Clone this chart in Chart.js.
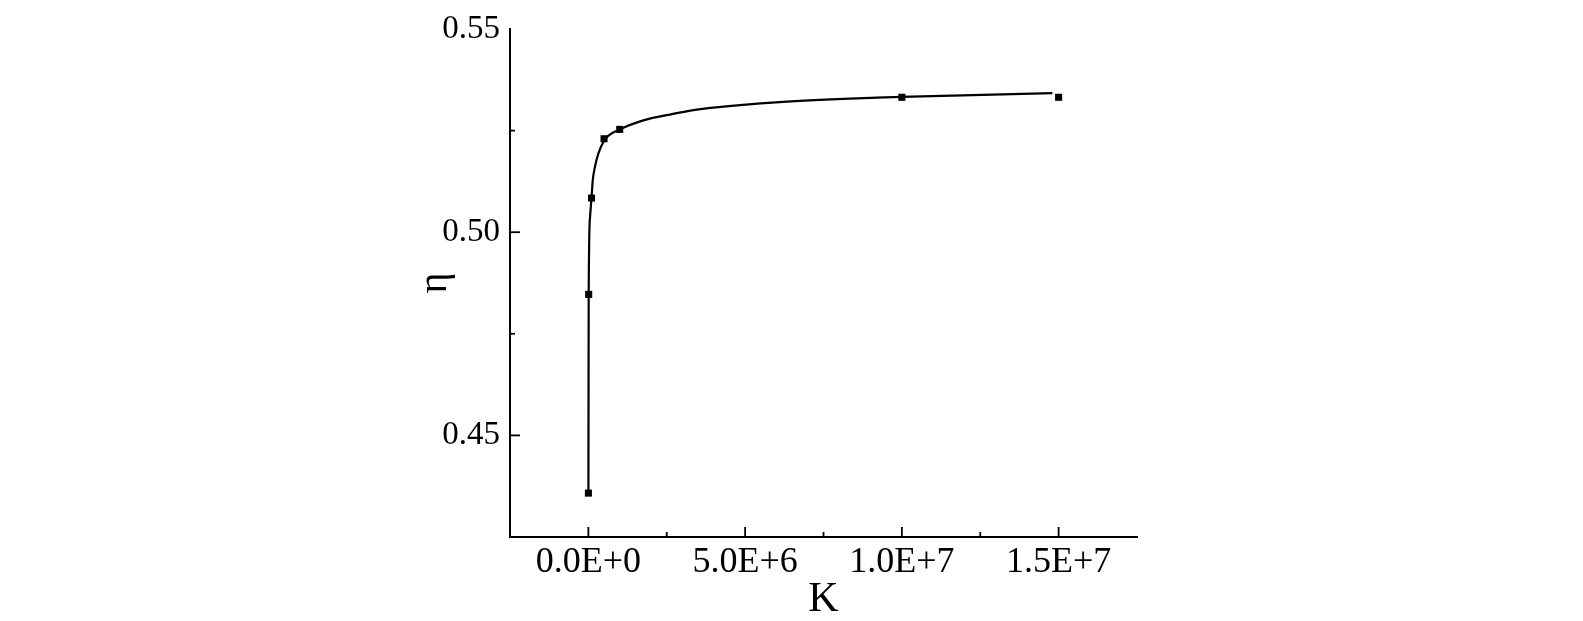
<!DOCTYPE html>
<html>
<head>
<meta charset="utf-8">
<title>eta vs K</title>
<script src="https://cdn.jsdelivr.net/npm/chart.js@4/dist/chart.umd.min.js"></script>
<style>
  html, body { margin: 0; padding: 0; background: #fff; }
  #wrap { width: 1583px; height: 621px; }
</style>
</head>
<body>
<div id="wrap"><canvas id="chart" width="1583" height="621"></canvas></div>
<script>
// measured points
const pointK = [1e3, 1e4, 1e5, 5e5, 1e6, 1e7, 1.5e7];
const pointEta = [0.4358, 0.4847, 0.5084, 0.5230, 0.5253, 0.5332, 0.5332];

// fitted curve
const curveK = [1e3, 1e4, 5.4e4, 1.0e5, 1.4e5, 2.1e5, 3.2e5, 5e5, 6.3e5, 1e6, 1.7e6, 2.7e6, 3.4e6, 3.9e6, 6.1e6, 9.2e6, 1e7, 1.48e7];
const curveEta = [0.4358, 0.4847, 0.5038, 0.5084, 0.5128, 0.5161, 0.5194, 0.5225, 0.5237, 0.5253, 0.5274, 0.5291, 0.5301, 0.5306, 0.5320, 0.5331, 0.5333, 0.5342];

// axis ticks
const xMajor = [0, 5e6, 1e7, 1.5e7];
const yMajor = [0.45, 0.50, 0.55];

const FONT = "'Liberation Serif', 'Times New Roman', serif";

function toXY(xs, ys) {
    return xs.map((x, i) => ({ x: x, y: ys[i] }));
}

function sciLabel(v) {
    if (v === 0) return '0.0E+0';
    const e = Math.floor(Math.log10(Math.abs(v)) + 1e-9);
    return (v / Math.pow(10, e)).toFixed(1) + 'E+' + e;
}

function isMajor(list, v) {
    return list.some(m => Math.abs(m - v) < Math.abs(m) * 1e-6 + 1e-9);
}

// ticks pointing into the plot, short ones for minor steps
const insideTicks = {
    id: 'insideTicks',
    afterDraw(chart) {
        const ctx = chart.ctx;
        const area = chart.chartArea;
        const sx = chart.scales.x;
        const sy = chart.scales.y;
        ctx.save();
        ctx.strokeStyle = '#000';
        ctx.lineWidth = 1.8;
        sx.ticks.forEach(t => {
            if (t.value <= sx.min || t.value >= sx.max) return;
            const px = sx.getPixelForValue(t.value);
            const len = isMajor(xMajor, t.value) ? 10 : 5;
            ctx.beginPath();
            ctx.moveTo(px, area.bottom);
            ctx.lineTo(px, area.bottom - len);
            ctx.stroke();
        });
        sy.ticks.forEach(t => {
            if (t.value <= sy.min + 1e-9 || t.value >= sy.max - 1e-9) return;
            const py = sy.getPixelForValue(t.value);
            const len = isMajor(yMajor, t.value) ? 10 : 5;
            ctx.beginPath();
            ctx.moveTo(area.left, py);
            ctx.lineTo(area.left + len, py);
            ctx.stroke();
        });
        ctx.restore();
    }
};

const ctx = document.getElementById('chart').getContext('2d');
new Chart(ctx, {
    type: 'scatter',
    data: {
        datasets: [
            {
                label: 'fit',
                data: toXY(curveK, curveEta),
                showLine: true,
                borderColor: '#000',
                borderWidth: 2.2,
                pointRadius: 0,
                cubicInterpolationMode: 'monotone',
                order: 2
            },
            {
                label: 'eta',
                data: toXY(pointK, pointEta),
                showLine: false,
                pointStyle: 'rect',
                pointRadius: 5,
                backgroundColor: '#000',
                borderColor: '#000',
                borderWidth: 0,
                order: 1
            }
        ]
    },
    options: {
        responsive: false,
        animation: false,
        layout: { padding: { left: 415, right: 446, top: 29, bottom: 0 } },
        plugins: {
            legend: { display: false },
            tooltip: { enabled: false }
        },
        scales: {
            x: {
                type: 'linear',
                min: -2.5e6,
                max: 1.75e7,
                afterFit: s => { s.height = 84; },
                grid: { display: false },
                border: { display: true, color: '#000', width: 2 },
                ticks: {
                    stepSize: 2.5e6,
                    autoSkip: false,
                    maxRotation: 0,
                    padding: -4,
                    color: '#000',
                    font: { family: FONT, size: 36 },
                    callback: v => isMajor(xMajor, v) ? sciLabel(v) : ''
                },
                title: {
                    display: true,
                    text: 'K',
                    color: '#000',
                    font: { family: FONT, size: 42, lineHeight: 1 },
                    padding: 0
                }
            },
            y: {
                type: 'linear',
                min: 0.425,
                max: 0.55,
                afterFit: s => { s.width = 95; },
                grid: { display: false },
                border: { display: true, color: '#000', width: 2 },
                ticks: {
                    stepSize: 0.025,
                    autoSkip: false,
                    padding: 2,
                    color: '#000',
                    font: { family: FONT, size: 33 },
                    callback: v => isMajor(yMajor, v) ? v.toFixed(2) : ''
                },
                title: {
                    display: true,
                    text: 'η',
                    color: '#000',
                    font: { family: FONT, size: 40, lineHeight: 1 },
                    padding: 0
                }
            }
        }
    },
    plugins: [insideTicks]
});
</script>
</body>
</html>
